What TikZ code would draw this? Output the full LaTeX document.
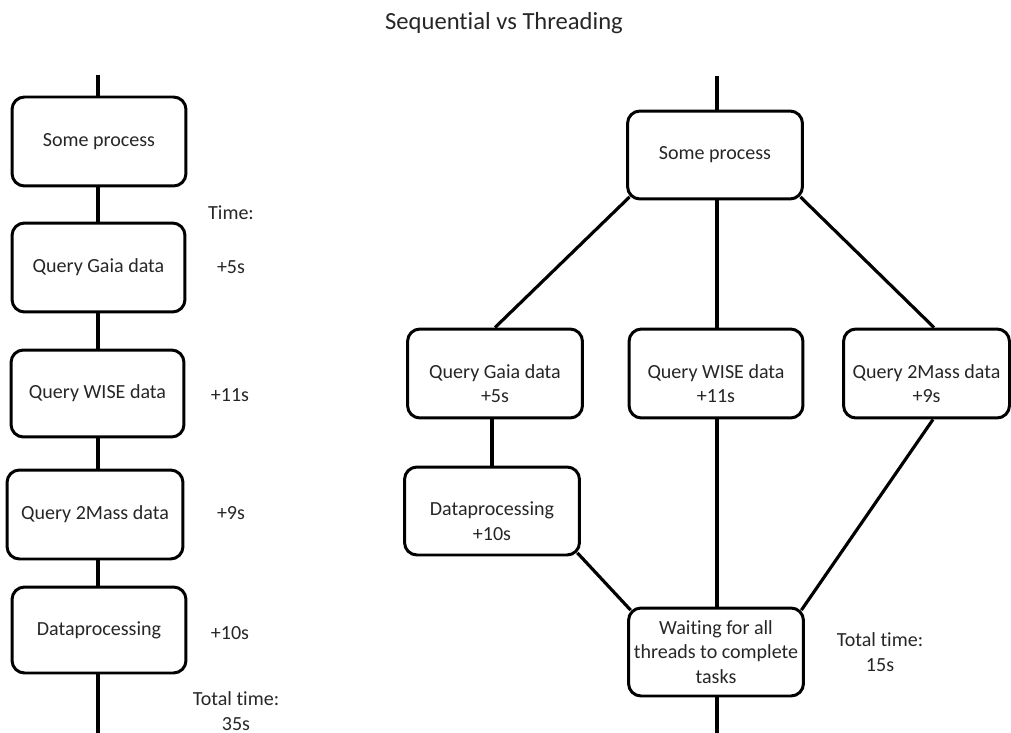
\documentclass[tikz,border=0pt]{standalone}
\usepackage{fontspec}
\setmainfont{Carlito}[Ligatures={NoCommon,NoRare,NoContextual}]

\newcommand{\boxfont}{\fontsize{11.4}{13.9}\selectfont}
\newcommand{\titlefont}{\fontsize{14}{17}\selectfont}

\tikzset{
    procbox/.style={draw, line width=1.7pt, rounded corners=0.25cm, minimum width=3.5cm, minimum height=1.77cm, inner sep=1pt, align=center, font=\boxfont, text=black!85},
    boxtext/.style={align=center, font=\boxfont, text=black!85, inner sep=0pt},
    link/.style={line width=1.8pt},
}

\begin{document}
\begin{tikzpicture}[x=0.02cm, y=-0.02cm]
    \def\co{3.6};
    \def\dn{10};
    \def\xl{98};
    \def\xr{717};

    \useasboundingbox (0,0) rectangle (1011,733);

    \node[boxtext, font=\titlefont, anchor=base] (title) at (504,30) {Sequential vs Threading};

% sequential column
    \node[procbox, minimum width=3.48cm, minimum height=1.78cm] (lsome) at (99,141.5) {Some process};
    \node[procbox, minimum width=3.46cm, minimum height=1.78cm] (lgaia) at (98.5,267.5) {Query Gaia data};
    \node[procbox, minimum width=3.46cm, minimum height=1.74cm] (lwise) at (97.5,393.5) {Query WISE data};
    \node[procbox, minimum width=3.52cm, minimum height=1.78cm] (l2mass) at (95,514.5) {Query 2Mass data};
    \node[procbox, minimum width=3.48cm, minimum height=1.72cm] (ldata) at (99,630) {Dataprocessing};

    \coordinate (ltop) at (\xl,75);
    \coordinate (lbot) at (\xl,733);

    \draw[link] (ltop) -- (ltop |- lsome.north);
    \draw[link] (lsome.south -| ltop) -- (lgaia.north -| ltop);
    \draw[link] (lgaia.south -| ltop) -- (lwise.north -| ltop);
    \draw[link] (lwise.south -| ltop) -- (l2mass.north -| ltop);
    \draw[link] (l2mass.south -| ltop) -- (ldata.north -| ltop);
    \draw[link] (ldata.south -| ltop) -- (lbot);

    \node[boxtext] (ltime) at (231,213) {Time:};
    \node[boxtext] (tgaia) at (231,267) {+5s};
    \node[boxtext] (twise) at (230,395) {+11s};
    \node[boxtext] (t2mass) at (231,513) {+9s};
    \node[boxtext] (tdata) at (230,633) {+10s};
    \node[boxtext] (ltotal) at (236,711) {Total time:\\35s};

% threading column
    \node[procbox, minimum height=1.76cm] (rsome) at (715,155) {Some process};

    \node[procbox, minimum height=1.78cm] (rgaia) at (495,373.5) {};
    \node[procbox, minimum width=3.48cm, minimum height=1.78cm] (rwise) at (716,373.5) {};
    \node[procbox, minimum width=3.32cm, minimum height=1.78cm] (r2mass) at (926.5,373.5) {};
    \node[procbox, minimum height=1.76cm] (rdata) at (492,511) {};
    \node[procbox, minimum height=1.76cm] (rwait) at (716,652) {Waiting for all\\threads to complete\\tasks};

    \node[boxtext] (rgaiatext) at ([shift={(0,\dn)}]rgaia.center) {Query Gaia data\\+5s};
    \node[boxtext] (rwisetext) at ([shift={(0,\dn)}]rwise.center) {Query WISE data\\+11s};
    \node[boxtext] (r2masstext) at ([shift={(0,\dn)}]r2mass.center) {Query 2Mass data\\+9s};
    \node[boxtext] (rdatatext) at ([shift={(0,\dn)}]rdata.center) {Dataprocessing\\+10s};

    \coordinate (rtop) at (\xr,76);
    \coordinate (rbot) at (\xr,733);

    \draw[link] (rtop) -- (rtop |- rsome.north);
    \draw[link] ([shift={(\co,-\co)}]rsome.south west) -- (rgaia.north);
    \draw[link] (rsome.south -| rtop) -- (rwise.north -| rtop);
    \draw[link] ([shift={(-\co,-\co)}]rsome.south east) -- ([shift={(7.5,0)}]r2mass.north);

    \draw[link] (rgaia.south -| rdata.north) -- (rdata.north);
    \draw[link] ([shift={(-\co,-\co)}]rdata.south east) -- ([shift={(\co,\co)}]rwait.north west);
    \draw[link] (rwise.south -| rtop) -- (rwait.north -| rtop);
    \draw[link] ([shift={(6.5,0)}]r2mass.south) -- ([shift={(-\co,\co)}]rwait.north east);
    \draw[link] (rwait.south -| rbot) -- (rbot);

    \node[boxtext] (rtotal) at (880,652) {Total time:\\15s};

\end{tikzpicture}
\end{document}
